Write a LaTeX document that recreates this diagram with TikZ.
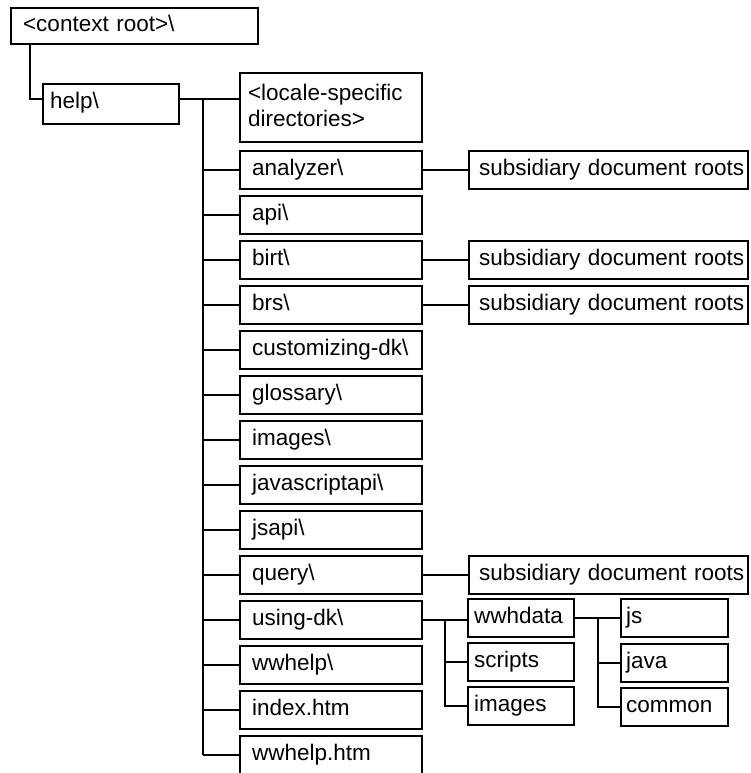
\documentclass[tikz,border=0pt]{standalone}
\usepackage{fontspec}
\setmainfont{Liberation Sans}
\usetikzlibrary{calc}

\tikzset{
  dirbox/.style={draw, line width=2.2pt, rectangle, anchor=north west,
    align=left, inner xsep=#1, inner ysep=0pt,
    text height=16pt, text depth=5pt,
    font=\fontsize{22.5}{26}\selectfont},
  dirbox/.default=11pt,
  link/.style={line width=2pt},
}

\begin{document}
\begin{tikzpicture}[x=1pt, y=-1pt]
  \useasboundingbox (0,0) rectangle (750,773);
  \clip (0,0) rectangle (750,772);

  % top levels
  \node[dirbox=12pt, minimum height=36pt, text width=223pt] (root) at (10,7) {<context root>\textbackslash};
  \node[dirbox=7pt, minimum height=40pt, text width=122pt, text depth=8pt] (help) at (42,83) {help\textbackslash};
  \node[dirbox=8pt, minimum height=69pt, text width=166pt, inner ysep=9pt,
        text depth=31pt] (locale) at (239,72)
    {<locale-specific\\directories>};

  % main directory column
  \foreach \lbl [count=\i from 0] in {analyzer\textbackslash, api\textbackslash, birt\textbackslash,
      brs\textbackslash, customizing-dk\textbackslash, glossary\textbackslash, images\textbackslash,
      javascriptapi\textbackslash, jsapi\textbackslash, query\textbackslash, using-dk\textbackslash,
      wwhelp\textbackslash, index.htm, wwhelp.htm}
    \node[dirbox=12pt, minimum height=38pt, text width=158pt] (m\i) at (239,{150+45*\i}) {\mbox{\lbl}};

  % subsidiary document roots
  \foreach \r in {0,2,3,9}
    \node[dirbox=10pt, minimum height=38pt, text width=259pt] (s\r) at (468,{150+45*\r})
      {\mbox{subsidiary document roots}};

  % using-dk subtree
  \node[dirbox=6pt, minimum height=38pt, text width=94pt] (wwhdata) at (467,598) {wwhdata};
  \node[dirbox=6pt, minimum height=38pt, text width=94pt] (scripts) at (467,642) {scripts};
  \node[dirbox=6pt, minimum height=38pt, text width=94pt] (imgs) at (467,686) {images};

  % wwhdata subtree
  \node[dirbox=5pt, minimum height=38pt, text width=97pt] (js) at (620,598) {js};
  \node[dirbox=5pt, minimum height=38pt, text width=97pt] (java) at (620,643) {java};
  \node[dirbox=5pt, minimum height=38pt, text width=97pt] (common) at (620,687) {common};

  % connectors
  \coordinate (hw) at ([yshift=5pt]help.west);
  \coordinate (he) at ([yshift=5pt]help.east);
  \draw[link] ([xshift=20pt]root.south west) |- (hw);
  \draw[link] (he) -- (he -| locale.west);

  \coordinate (trunk) at (203,0);
  \draw[link] (he -| trunk) -- (trunk |- m13.west);
  \foreach \i in {0,...,13}
    \draw[link] (m\i.west -| trunk) -- (m\i.west);

  \foreach \r in {0,2,3,9}
    \draw[link] (m\r.east) -- (s\r.west);

  \coordinate (t2) at (445,0);
  \draw[link] (m10.east) -- (m10.east -| wwhdata.west);
  \draw[link] (m10.east -| t2) -- (t2 |- imgs.west) -- (imgs.west);
  \draw[link] (t2 |- scripts.west) -- (scripts.west);

  \coordinate (t3) at (598,0);
  \draw[link] (wwhdata.east) -- (js.west);
  \draw[link] (wwhdata.east -| t3) -- (t3 |- common.west) -- (common.west);
  \draw[link] (t3 |- java.west) -- (java.west);
\end{tikzpicture}
\end{document}
